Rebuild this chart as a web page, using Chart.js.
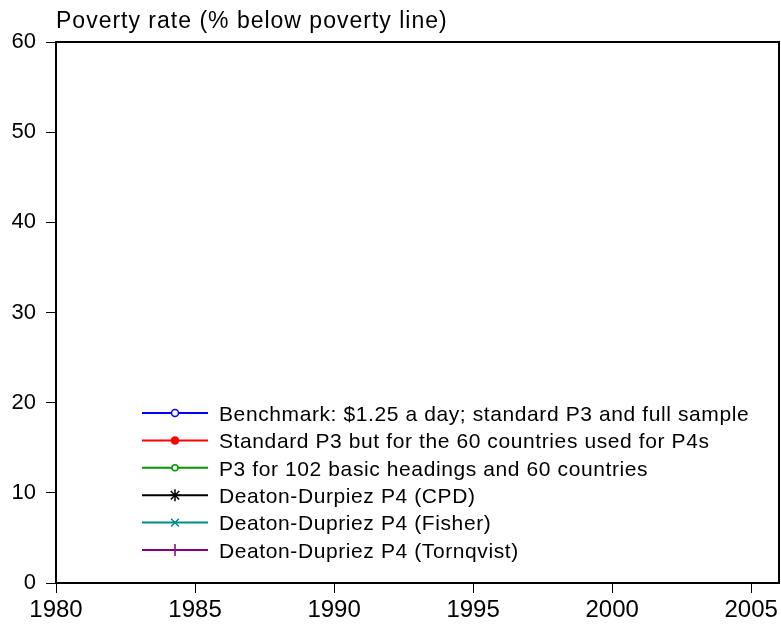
<!DOCTYPE html>
<html>
<head>
<meta charset="utf-8">
<script src="https://cdn.jsdelivr.net/npm/chart.js@4"></script>
<style>
html,body{margin:0;padding:0;background:#fff;}
#wrap{width:781px;height:625px;position:relative;}
</style>
</head>
<body>
<div id="wrap"><canvas id="c" width="781" height="625"></canvas></div>
<script>
// ---- data ----
const yTitle = "Poverty rate (% below poverty line)";
const xTickYears = [1980, 1985, 1990, 1995, 2000, 2005];
const yTickValues = [0, 10, 20, 30, 40, 50, 60];
const seriesLabels = [
  "Benchmark: $1.25 a day; standard P3 and full sample",
  "Standard P3 but for the 60 countries used for P4s",
  "P3 for 102 basic headings and 60 countries",
  "Deaton-Durpiez P4 (CPD)",
  "Deaton-Dupriez P4 (Fisher)",
  "Deaton-Dupriez P4 (Tornqvist)"
];
// No data points are visible inside the plotted range of the reference.
const benchmark = [];
const standardP3_60 = [];
const p3_102bh = [];
const p4_cpd = [];
const p4_fisher = [];
const p4_tornqvist = [];

const colors = ["#0000ff", "#ff0000", "#009900", "#000000", "#008b8b", "#800080"];
const pStyles = ["circle", "circle", "circle", "star", "crossRot", "cross"];
const pFill = ["#ffffff", "#ff0000", "#ffffff", "#000000", "#008b8b", "#800080"];
const pRad = [3.5, 3.5, 3, 6, 5.5, 6];
const seriesData = [benchmark, standardP3_60, p3_102bh, p4_cpd, p4_fisher, p4_tornqvist];

const datasets = seriesLabels.map((lab, i) => ({
  label: lab,
  data: seriesData[i],
  borderColor: colors[i],
  backgroundColor: pFill[i],
  pointStyle: pStyles[i],
  pointRadius: pRad[i],
  pointBorderColor: colors[i],
  pointBackgroundColor: pFill[i],
  borderWidth: 2,
  showLine: true
}));

const FONT = "'Liberation Sans', Arial, sans-serif";

const framePlugin = {
  id: 'frame',
  afterDraw(chart) {
    const {ctx, chartArea: a} = chart;
    ctx.save();
    ctx.strokeStyle = '#000';
    ctx.lineWidth = 2;
    ctx.strokeRect(a.left, a.top, a.right - a.left, a.bottom - a.top);
    // title
    ctx.fillStyle = '#000';
    ctx.font = "23px " + FONT;
    ctx.letterSpacing = "1px";
    ctx.textBaseline = 'middle';
    ctx.textAlign = 'left';
    ctx.fillText(yTitle, a.left, 22);
    // legend inside plot area
    const x0 = 142, x1 = 208, tx = 219, y0 = 413, dy = 27.4;
    ctx.font = "21px " + FONT;
    ctx.letterSpacing = "0.6px";
    chart.data.datasets.forEach((ds, i) => {
      const y = y0 + i * dy;
      ctx.strokeStyle = ds.borderColor;
      ctx.lineWidth = 2;
      ctx.beginPath();
      ctx.moveTo(x0, y);
      ctx.lineTo(x1, y);
      ctx.stroke();
      ctx.fillStyle = ds.pointBackgroundColor;
      ctx.strokeStyle = ds.pointBorderColor;
      ctx.lineWidth = 1.5;
      Chart.helpers.drawPoint(ctx, {pointStyle: ds.pointStyle, radius: ds.pointRadius, rotation: 0, borderWidth: 1.5}, (x0 + x1) / 2, y);
      ctx.fillStyle = '#000';
      ctx.fillText(ds.label, tx, y + 2);
    });
    ctx.restore();
  }
};

new Chart(document.getElementById('c'), {
  type: 'line',
  data: { datasets },
  options: {
    responsive: false,
    animation: false,
    layout: { padding: { top: 42, right: 2, left: 0, bottom: 0 } },
    plugins: { legend: { display: false }, tooltip: { enabled: false }, title: { display: false } },
    scales: {
      x: {
        type: 'linear',
        min: 1980,
        max: 2006,
        afterBuildTicks(s) { s.ticks = xTickYears.map(v => ({ value: v })); },
        afterFit(s) { s.height = 42; },
        border: { display: true, color: '#000', width: 2 },
        grid: { display: true, drawOnChartArea: false, drawTicks: true, tickLength: 10, color: '#000', lineWidth: 1 },
        ticks: { color: '#000', font: { family: FONT, size: 24 }, padding: 3, maxRotation: 0, autoSkip: false, callback: v => String(v) }
      },
      y: {
        type: 'linear',
        min: 0,
        max: 60,
        afterBuildTicks(s) { s.ticks = yTickValues.map(v => ({ value: v })); },
        afterFit(s) { s.width = 56; },
        border: { display: true, color: '#000', width: 2 },
        grid: { display: true, drawOnChartArea: false, drawTicks: true, tickLength: 10, color: '#000', lineWidth: 1 },
        ticks: { color: '#000', font: { family: FONT, size: 22 }, padding: 10, callback: v => String(v) }
      }
    }
  },
  plugins: [framePlugin]
});
</script>
</body>
</html>
